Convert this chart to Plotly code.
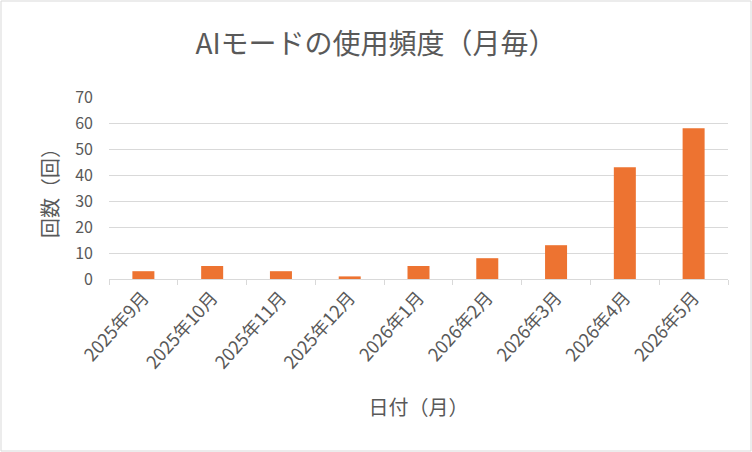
import plotly.graph_objects as go

months = ["2025年9月", "2025年10月", "2025年11月", "2025年12月",
          "2026年1月", "2026年2月", "2026年3月", "2026年4月", "2026年5月"]
counts = [3, 5, 3, 1, 5, 8, 13, 43, 58]

W, H = 752, 452
ml, mr, mt, mb = 109, 24, 97, 173
pw, ph = W - ml - mr, H - mt - mb

fig = go.Figure(go.Bar(x=months, y=counts, marker_color="#ED7331", marker_line_width=0))

fnt = "Noto Sans CJK JP, sans-serif"
fig.update_layout(
    width=W, height=H,
    margin=dict(l=ml, r=mr, t=mt, b=mb),
    paper_bgcolor="white", plot_bgcolor="white",
    font=dict(family=fnt, color="#595959", size=13),
    bargap=0.68,
    showlegend=False,
    title=dict(text="AIモードの使用頻度（月毎）", x=0.5, xanchor="center",
               y=1 - 44 / H, yanchor="middle",
               font=dict(size=28, color="#595959")),
)
fig.update_xaxes(
    automargin=False,
    tickangle=-48, tickson="boundaries", ticks="outside", ticklen=5,
    tickcolor="#D9D9D9", showline=True, linecolor="#D9D9D9", linewidth=1,
    showgrid=False, tickfont=dict(size=18),
    title=dict(text="日付（月）", font=dict(size=20), standoff=28),
)
fig.update_yaxes(
    automargin=False,
    range=[0, 70], dtick=10, showgrid=True, gridcolor="#D9D9D9", gridwidth=1,
    zeroline=False, tickfont=dict(size=16), ticklabelstandoff=15,
    title=dict(text="回数（回）", font=dict(size=20), standoff=11),
)
fig.add_shape(type="rect", xref="paper", yref="paper",
              x0=-(ml - 1) / pw, x1=1 + (mr - 1) / pw,
              y0=-(mb - 1) / ph, y1=1 + (mt - 1) / ph,
              line=dict(color="#D9D9D9", width=1))

# remove the default page margin so the figure sits at the window's corner
fig.write_html("out.html", config={"displayModeBar": False},
               post_script="document.body.style.margin='0';")
